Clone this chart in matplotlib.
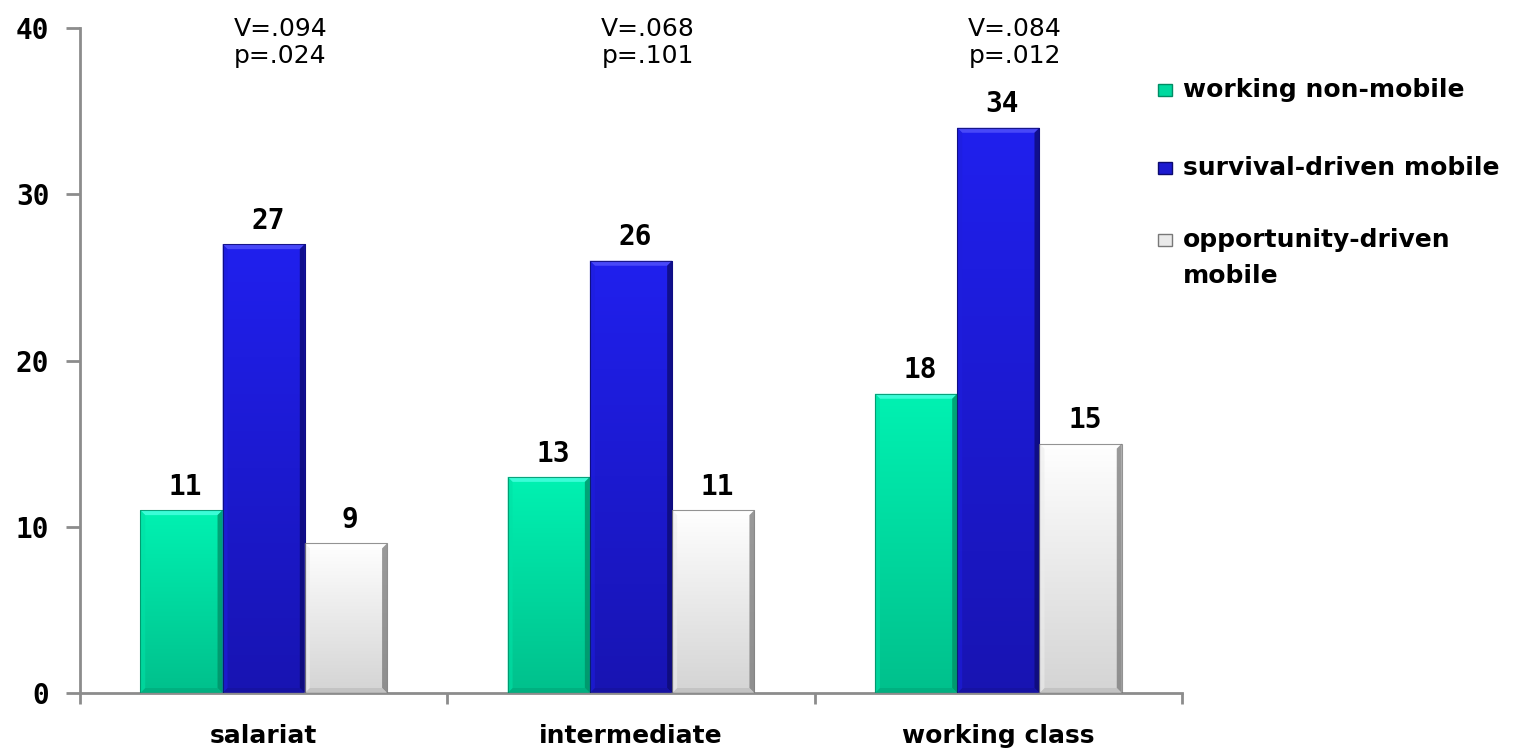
import numpy as np
import matplotlib
matplotlib.use("Agg")
import matplotlib.pyplot as plt
from matplotlib.patches import Rectangle, Polygon

categories = ["salariat", "intermediate", "working class"]
series_names = ["working non-mobile", "survival-driven mobile", "opportunity-driven\nmobile"]
working_non_mobile = [11, 13, 18]
survival_driven = [27, 26, 34]
opportunity_driven = [9, 11, 15]
cramers_v = [".094", ".068", ".084"]
p_values = [".024", ".101", ".012"]
y_ticks = [0, 10, 20, 30, 40]

series = [working_non_mobile, survival_driven, opportunity_driven]
# top colour, bottom colour, highlight, shadow for each series
grad = [
    ((0, 242, 178), (0, 192, 140), (70, 255, 222), (0, 140, 100)),
    ((32, 32, 238), (24, 20, 178), (80, 80, 250), (12, 10, 110)),
    ((255, 255, 255), (212, 212, 212), (255, 255, 255), (120, 120, 120)),
]

W, H = 1514, 748
fig = plt.figure(figsize=(W / 100, H / 100), dpi=100)
ax = fig.add_axes([80 / W, 55 / H, (1182 - 80) / W, (693 - 28) / H])

ax.set_xlim(-0.5, 2.5)
ax.set_ylim(0, 40)

width = 0.224
offsets = [-width, 0, width]
x = np.arange(len(categories))

# bevel size of 5 screen pixels, expressed in data units
bx = 5 * 3.0 / (1182 - 80)
by = 5 * 40.0 / (693 - 28)


def shade(c, f):
    return np.clip(c * f, 0, 1)


for s, vals in enumerate(series):
    top, bot, hi, lo = [np.array(c) / 255 for c in grad[s]]
    bars = ax.bar(x + offsets[s], vals, width, facecolor="none",
                  edgecolor="none", linewidth=0, zorder=3)
    for rect, v in zip(bars, vals):
        x0 = rect.get_x()
        x1 = x0 + width
        g = np.linspace(0, 1, 256)[:, None, None]
        img = top * (1 - g) + bot * g
        im = ax.imshow(img, extent=[x0, x1, 0, v], aspect="auto",
                       origin="upper", zorder=2, interpolation="bilinear")
        im.set_clip_path(rect)
        # bevelled rims
        ax.add_patch(Polygon([[x0, v], [x1, v], [x1 - bx, v - by], [x0 + bx, v - by]],
                             closed=True, facecolor=hi, edgecolor="none", alpha=0.85, zorder=3))
        ax.add_patch(Polygon([[x1, v], [x1, 0], [x1 - bx, by], [x1 - bx, v - by]],
                             closed=True, facecolor=lo, edgecolor="none", alpha=0.75, zorder=3))
        ax.add_patch(Polygon([[x0, 0], [x1, 0], [x1 - bx, by], [x0 + bx, by]],
                             closed=True, facecolor=shade(bot, 0.9), edgecolor="none", alpha=0.8, zorder=3))
        ax.add_patch(Polygon([[x0, v], [x0, 0], [x0 + bx, by], [x0 + bx, v - by]],
                             closed=True, facecolor=shade(top, 0.93), edgecolor="none", alpha=0.6, zorder=3))
        ax.add_patch(Rectangle((x0, 0), width, v, facecolor="none",
                               edgecolor=lo, linewidth=0.8, alpha=0.8, zorder=4))
        ax.annotate(str(v), ((x0 + x1) / 2, v), xytext=(3, 11),
                    textcoords="offset points", ha="center", va="baseline",
                    fontsize=20, fontweight="bold", family="DejaVu Sans Mono")

for i in range(len(categories)):
    ax.text(i + 0.045, 39.52, f"V={cramers_v[i]}", ha="center", va="baseline",
            fontsize=18, clip_on=False)
    ax.text(i + 0.045, 37.9, f"p={p_values[i]}", ha="center", va="baseline",
            fontsize=18, clip_on=False)

ax.set_yticks(y_ticks)
ax.set_yticklabels([str(t) for t in y_ticks], fontsize=20, fontweight="bold",
                   family="DejaVu Sans Mono")
ax.set_xticks(x)
ax.set_xticklabels(categories, fontsize=18, fontweight="bold")
ax.set_xticks([-0.5, 0.5, 1.5, 2.5], minor=True)
ax.tick_params(axis="x", which="major", length=0, pad=22)
ax.tick_params(axis="x", which="minor", length=8, width=2, color="#8c8c8c")
ax.tick_params(axis="y", length=10, width=2, color="#8c8c8c", pad=12)

for side in ["top", "right"]:
    ax.spines[side].set_visible(False)
for side in ["left", "bottom"]:
    ax.spines[side].set_color("#8c8c8c")
    ax.spines[side].set_linewidth(2)

# legend placed in figure pixels
leg_rows = [90, 168, 240]
line_step = 36
for s, yc in enumerate(leg_rows):
    top, bot, hi, lo = [np.array(c) / 255 for c in grad[s]]
    fig.patches.append(Rectangle((1158 / W, (H - yc - 6) / H), 14 / W, 12 / H,
                                 transform=fig.transFigure,
                                 facecolor=(top + bot) / 2, edgecolor=lo,
                                 linewidth=1))
    for k, line in enumerate(series_names[s].split("\n")):
        fig.text(1183 / W, (H - yc - k * line_step) / H, line, ha="left",
                 va="center", fontsize=18, fontweight="bold")

fig.savefig("out.png", dpi=100)
